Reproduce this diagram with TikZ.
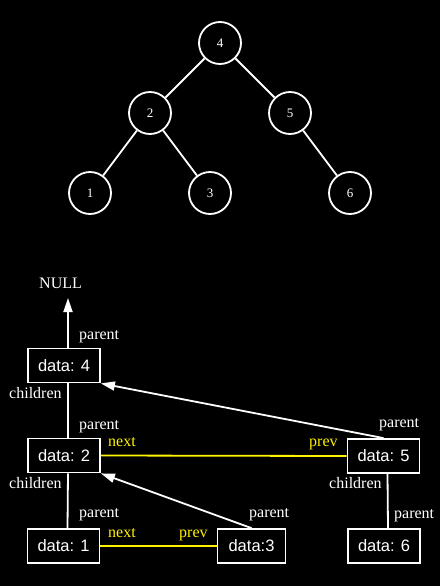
\documentclass[tikz,border=0pt]{standalone}
\usepackage{fontspec}
\setmainfont{Liberation Serif}
\newfontfamily\boxfont{Liberation Sans}
\usetikzlibrary{arrows.meta}
\begin{document}
\begin{tikzpicture}[x=1pt,y=-1pt,
  treenode/.style={circle,draw=white,line width=1.8pt,minimum size=42pt,inner sep=0pt,text=white,font=\fontsize{13}{15}\selectfont},
  treeedge/.style={draw=white,line width=1.8pt},
  databox/.style={draw=white,line width=1.8pt,minimum height=34pt,inner sep=0pt,text=white,font=\boxfont\fontsize{16.5}{19}\selectfont},
  link/.style={draw=white,line width=1.8pt},
  ptr/.style={draw=white,line width=1.8pt,-{Triangle[length=14pt,width=9pt]}},
  sib/.style={draw=yellow,line width=1.8pt},
  lbl/.style={text=white,anchor=base west,inner sep=0pt,font=\fontsize{16}{18}\selectfont},
  ylbl/.style={lbl,text=yellow}]
\fill[black] (0,0) rectangle (440,586);
\useasboundingbox (0,0) rectangle (440,586);
% tree
\node[treenode] (t4) at (220,43) {4};
\node[treenode] (t2) at (150,113) {2};
\node[treenode] (t5) at (290,113) {5};
\node[treenode] (t1) at (90,193) {1};
\node[treenode] (t3) at (210,193) {3};
\node[treenode] (t6) at (350,193) {6};
\draw[treeedge] (t4) -- (t2);
\draw[treeedge] (t4) -- (t5);
\draw[treeedge] (t2) -- (t1);
\draw[treeedge] (t2) -- (t3);
\draw[treeedge] (t5) -- (t6);
% boxes
\node[databox,minimum width=72pt] (b4) at (64,365.5) {data: 4};
\node[databox,minimum width=72pt] (b2) at (64,455.5) {data: 2};
\node[databox,minimum width=72pt] (b5) at (383.5,456) {data: 5};
\node[databox,minimum width=72pt] (b1) at (63.5,546) {data: 1};
\node[databox,minimum width=68pt] (b3) at (251.5,546) {data:3};
\node[databox,minimum width=72pt] (b6) at (384,546) {data: 6};
\node[lbl] (null) at (39,288) {NULL};
\coordinate (nulltip) at (68,298);
% connectors
\draw[ptr] ([xshift=4pt]b4.north) -- (nulltip);
\draw[link] ([xshift=4pt]b4.south) -- ([xshift=4pt]b2.north);
\draw[link] ([xshift=4pt]b2.south) -- ([xshift=4pt]b1.north);
\draw[link] ([xshift=4pt]b5.south) -- ([xshift=4pt]b6.north);
\draw[ptr] (b5.north) -- (b4.south east);
\draw[ptr] (b3.north) -- (b2.south east);
\draw[sib] (b2.east) -- (b5.west);
\draw[sib] (b1.east) -- (b3.west);
% labels
\node[lbl] (p4) at (79,339) {parent};
\node[lbl] (c4) at (9,398) {children};
\node[lbl] (p2) at (79,429) {parent};
\node[ylbl] (n2) at (108,446) {next};
\node[ylbl] (v5) at (309,446) {prev};
\node[lbl] (p5) at (379,427) {parent};
\node[lbl] (c2) at (9,488) {children};
\node[lbl] (p1) at (79,517) {parent};
\node[lbl] (p3) at (249,517) {parent};
\node[lbl] (c5) at (329,488) {children};
\node[lbl] (p6) at (394,518) {parent};
\node[ylbl] (n1) at (108,537) {next};
\node[ylbl] (v3) at (179,537) {prev};
\end{tikzpicture}
\end{document}
